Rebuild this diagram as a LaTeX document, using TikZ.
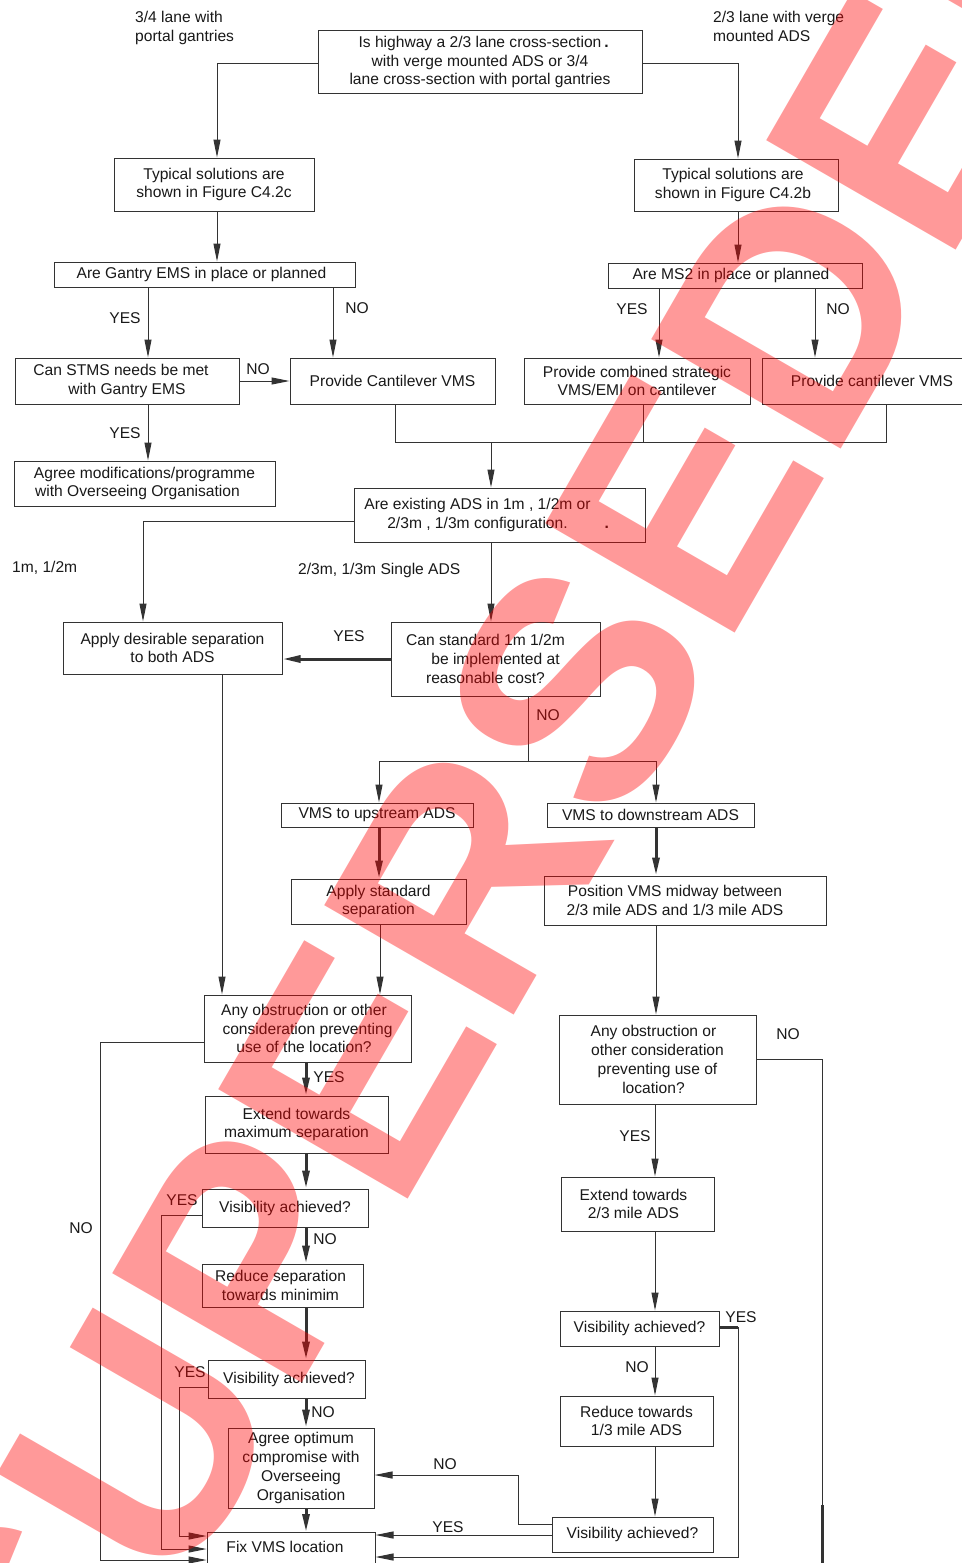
\documentclass[tikz,border=0pt]{standalone}
\usepackage{fontspec}
\setmainfont{Liberation Sans}
\usetikzlibrary{arrows.meta}
\newcommand\fsz{\fontsize{15.6}{18.8}\selectfont}
\tikzset{
 box/.style={draw=black!80, line width=1pt, inner sep=0pt, align=center, font=\fsz, text=black!90},
 ln/.style={draw=black!80, line width=1pt},
 arr/.style={ln, -{Triangle[length=18pt,width=7pt]}},
 thk/.style={line width=3pt},
 lbl/.style={inner sep=0pt, font=\fsz, text height=11.2pt, text depth=0pt, text=black!90},
 note/.style={inner sep=0pt, font=\fsz, align=left, text=black!90},
}
\newcommand\bx[6]{\node[box, minimum width={#4-#2}, minimum height={#5-#3}] (#1) at ({(#2+#4)/2},{(#3+#5)/2}) {#6};}
\begin{document}
\begin{tikzpicture}[x=1pt,y=-1pt]
\fill[white] (0,0) rectangle (961,1563);
\useasboundingbox (0,0) rectangle (961,1563);
% boxes
\bx{q1}{318}{31}{642}{93}{Is highway a 2/3 lane cross-section\rlap{\hspace{3pt}\textbf{.}}\\with verge mounted ADS or 3/4\\lane cross-section with portal gantries}
\bx{t1}{114}{158}{314}{211}{Typical solutions are\\shown in Figure C4.2c}
\bx{t2}{634}{159}{838}{211}{Typical solutions are\hspace*{6pt}\\shown in Figure C4.2b\hspace*{6pt}}
\bx{g}{54}{262}{355}{287}{Are Gantry EMS in place or planned\hspace*{6pt}}
\bx{m}{608}{263}{862}{288}{Are MS2 in place or planned\hspace*{8pt}}
\bx{s}{15}{358}{239}{404}{Can STMS needs be met\hspace*{12pt}\\with Gantry EMS}
\bx{c}{290}{358}{495}{404}{Provide Cantilever VMS}
\bx{a}{14}{461}{275}{506}{Agree modifications/programme\\with Overseeing Organisation\hspace*{14pt}}
\bx{p}{524}{358}{750}{404}{Provide combined strategic\\VMS/EMI on cantilever}
\bx{r}{762}{358}{982}{404}{Provide cantilever VMS}
\bx{e}{354}{488}{645}{542}{Are existing ADS in 1m , 1/2m or\hspace*{44pt}\\2/3m , 1/3m configuration.\rlap{\hspace{37pt}\textbf{.}}\hspace*{44pt}}
\bx{d}{63}{622}{282}{674}{Apply desirable separation\\to both ADS}
\bx{f}{391}{622}{600}{696}{Can standard 1m 1/2m\hspace*{20pt}\\be implemented at\hspace*{20pt}\\reasonable cost?\hspace*{20pt}}
\bx{u}{281}{803}{473}{827}{VMS to upstream ADS}
\bx{w}{547}{803}{754}{827}{VMS to downstream ADS}
\bx{v}{291}{879}{466}{924}{Apply standard\\separation}
\bx{xm}{544}{876}{826}{925}{Position VMS midway between\hspace*{20pt}\\2/3 mile ADS and 1/3 mile ADS\hspace*{20pt}}
\bx{o1}{204}{995}{411}{1062}{Any obstruction or other\hspace*{7pt}\\consideration preventing\hspace*{7pt}\\use of the location?\hspace*{7pt}}
\bx{o2}{559}{1015}{756}{1104}{Any obstruction or\hspace*{8pt}\\other consideration\hspace*{8pt}\\preventing use of\hspace*{8pt}\\location?\hspace*{8pt}}
\bx{ym}{205}{1096}{388}{1153}{Extend towards\\maximum separation}
\bx{v1}{202}{1189}{368}{1227}{Visibility achieved?}
\bx{rd}{202}{1264}{363}{1307}{Reduce separation\hspace*{4pt}\\towards minimim\hspace*{4pt}}
\bx{v2}{208}{1360}{365}{1398}{\hspace*{5pt}Visibility achieved?}
\bx{ag}{228}{1428}{374}{1508}{Agree optimum\\compromise with\\Overseeing\\Organisation}
\node[box, minimum width=168, minimum height=60, anchor=north] (fix) at (291,1532) {};
\node[lbl] (fixt) at (285,1547) {Fix VMS location};
\bx{ex2}{561}{1177}{714}{1231}{Extend towards\hspace*{8pt}\\2/3 mile ADS\hspace*{8pt}}
\bx{va1}{560}{1311}{719}{1346}{Visibility achieved?}
\bx{rt}{560}{1396}{713}{1446}{Reduce towards\\1/3 mile ADS}
\bx{va3}{552}{1517}{713}{1552}{Visibility achieved?}
% free labels
\node[note, anchor=base west] (l1) at (135,41.6) {3/4 lane with\\portal gantries};
\node[note, anchor=base west] (l2) at (713,41.6) {2/3 lane with verge\\mounted ADS};
\node[lbl, anchor=west] (l3) at (12,567) {1m, 1/2m};
\node[lbl, anchor=west] (l4) at (298,569) {2/3m, 1/3m Single ADS};
\node[lbl] at (125,318) {YES};
\node[lbl] at (357,308) {NO};
\node[lbl] at (258,369) {NO};
\node[lbl] at (125,433) {YES};
\node[lbl] at (632,309) {YES};
\node[lbl] at (838,309) {NO};
\node[lbl] at (349,636) {YES};
\node[lbl] at (548,715) {NO};
\node[lbl] at (329,1077) {YES};
\node[lbl] at (788,1034) {NO};
\node[lbl] at (81,1228) {NO};
\node[lbl] at (182,1200) {YES};
\node[lbl] at (325,1239) {NO};
\node[lbl] at (190,1372) {YES};
\node[lbl] at (323,1412) {NO};
\node[lbl] at (635,1136) {YES};
\node[lbl] at (741,1317) {YES};
\node[lbl] at (637,1367) {NO};
\node[lbl] at (445,1464) {NO};
\node[lbl] at (448,1527) {YES};
% connectors
\draw[arr] (0,64 -| q1.west) -| (217,0 |- t1.north);
\draw[arr] (0,64 -| q1.east) -| (738,0 |- t2.north);
\draw[arr] (217,0 |- t1.south) -- (217,0 |- g.north);
\draw[arr] (738,0 |- t2.south) -- (738,0 |- m.north);
\draw[arr] (148,0 |- g.south) -- (148,0 |- s.north);
\draw[arr] (333,0 |- g.south) -- (333,0 |- c.north);
\draw[arr] (s.east) -- (c.west);
\draw[arr] (148,0 |- s.south) -- (148,0 |- a.north);
\draw[arr] (659,0 |- m.south) -- (659,0 |- p.north);
\draw[arr] (815,0 |- m.south) -- (815,0 |- r.north);
\coordinate (mrg) at (491,442);
\draw[ln] (395,0 |- c.south) |- (886,442) -- (886,0 |- r.south);
\draw[ln] (643,0 |- p.south) -- (643,442);
\draw[arr] (mrg) -- (491,0 |- e.north);
\draw[arr] (0,521 -| e.west) -| (143,0 |- d.north);
\draw[arr] (491,0 |- e.south) -- (491,0 |- f.north);
\draw[arr, thk] (f.west) -- (f.west -| d.east);
\coordinate (sp) at (528,761);
\draw[ln] (528,0 |- f.south) -- (sp);
\draw[arr] (sp) -| (379,0 |- u.north);
\draw[arr] (sp) -| (656,0 |- w.north);
\draw[arr, thk] (379,0 |- u.south) -- (379,0 |- v.north);
\draw[arr, thk] (656,0 |- w.south) -- (656,0 |- xm.north);
\draw[arr] (222,0 |- d.south) -- (222,0 |- o1.north);
\draw[arr] (380,0 |- v.south) -- (380,0 |- o1.north);
\draw[arr] (656,0 |- xm.south) -- (656,0 |- o2.north);
\draw[arr] (0,1059 -| o2.east) -- (822,1059) -- (822,1575) -- (0,1575 -| fix.east);
\draw[ln, thk] (822,1505) -- (822,1563);
\draw[arr, thk] (306,0 |- o1.south) -- (306,0 |- ym.north);
\draw[arr] (0,1042 -| o1.west) -- (100,1042) -- (100,1560) -- (0,1560 -| fix.west);
\draw[arr, thk] (306,0 |- ym.south) -- (306,0 |- v1.north);
\draw[arr] (0,1215 -| v1.west) -- (161,1215) -- (161,1549) -- (0,1549 -| fix.west);
\draw[arr, thk] (306,0 |- v1.south) -- (306,0 |- rd.north);
\draw[arr, thk] (306,0 |- rd.south) -- (306,0 |- v2.north);
\draw[arr] (0,1387 -| v2.west) -- (179,1387) -- (179,1536) -- (0,1536 -| fix.west);
\draw[arr, thk] (306,0 |- v2.south) -- (306,0 |- ag.north);
\draw[arr, thk] (306,0 |- ag.south) -- (306,0 |- fix.north);
\draw[arr] (655,0 |- o2.south) -- (655,0 |- ex2.north);
\draw[arr] (655,0 |- ex2.south) -- (655,0 |- va1.north);
\draw[ln, thk] (0,1327 -| va1.east) -- (738,1327);
\draw[arr] (738,1327) -- (738,1557) -- (0,1557 -| fix.east);
\draw[arr] (655,0 |- va1.south) -- (655,0 |- rt.north);
\draw[arr] (655,0 |- rt.south) -- (655,0 |- va3.north);
\draw[arr] (0,1524 -| va3.west) -- (518,1524) -- (518,1475) -- (0,1475 -| ag.east);
\draw[arr] (0,1535 -| va3.west) -- (0,1535 -| fix.east);
% watermark
\node[rotate=60, inner sep=0pt, text=red, text opacity=0.4, font=\fontsize{318}{318}\selectfont\bfseries] (wm) at (524,780) {SUPERSEDED};
\end{tikzpicture}
\end{document}
